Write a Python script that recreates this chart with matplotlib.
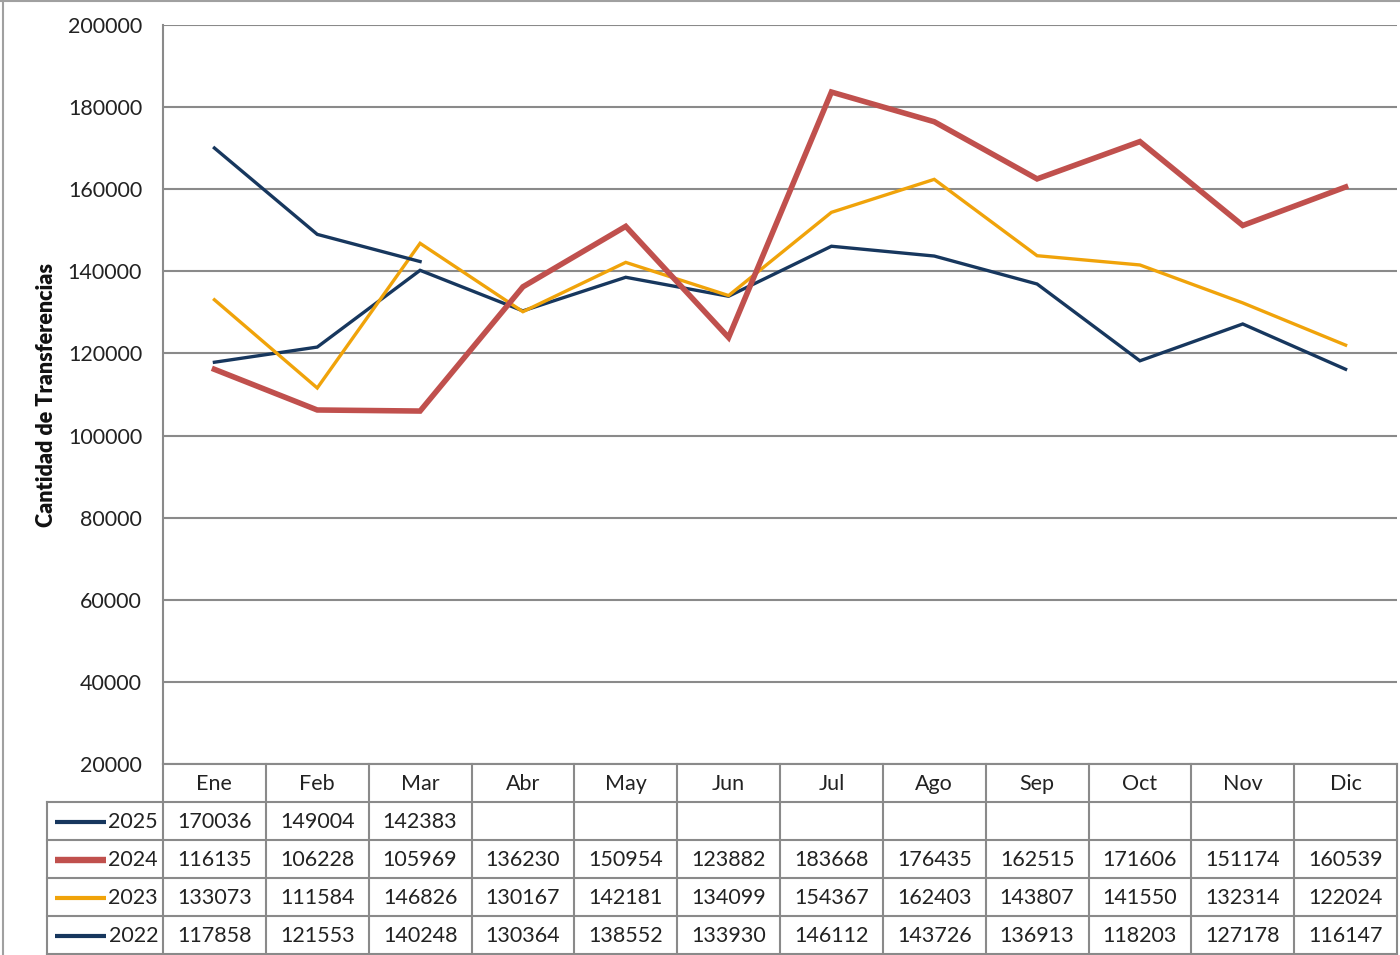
import numpy as np
import matplotlib.pyplot as plt

plt.rcParams['font.family'] = ['Lato', 'DejaVu Sans']

months = ['Ene', 'Feb', 'Mar', 'Abr', 'May', 'Jun', 'Jul', 'Ago', 'Sep', 'Oct', 'Nov', 'Dic']
v2025 = [170036, 149004, 142383]
v2024 = [116135, 106228, 105969, 136230, 150954, 123882, 183668, 176435, 162515, 171606, 151174, 160539]
v2023 = [133073, 111584, 146826, 130167, 142181, 134099, 154367, 162403, 143807, 141550, 132314, 122024]
v2022 = [117858, 121553, 140248, 130364, 138552, 133930, 146112, 143726, 136913, 118203, 127178, 116147]

years = ['2025', '2024', '2023', '2022']
series = [v2025, v2024, v2023, v2022]
colors = ['#17375E', '#C0504D', '#F0A30A', '#17375E']
widths = [2.4, 4.0, 2.4, 2.4]

W, H = 1400, 955
fig = plt.figure(figsize=(W / 100, H / 100), dpi=100)

# plot area in pixels
x0, x1 = 163, 1397
ytop, ybot = 25, 764
ax = fig.add_axes([x0 / W, 1 - ybot / H, (x1 - x0) / W, (ybot - ytop) / H])
grid_c = '#8A8A8A'

x = np.arange(len(months))
for i in [3, 2, 1, 0]:
    ax.plot(x[:len(series[i])], series[i], color=colors[i], lw=widths[i],
            solid_joinstyle='miter', zorder=3 + (i == 1))

ax.set_xlim(-0.5, 11.5)
ax.set_ylim(20000, 200000)
ax.set_yticks(np.arange(20000, 200001, 20000))
ax.set_xticks([])
ax.yaxis.grid(True, color=grid_c, lw=1.5)
ax.set_axisbelow(True)
for s in ['top', 'right', 'bottom']:
    ax.spines[s].set_visible(False)
ax.spines['left'].set_color(grid_c)
ax.spines['left'].set_linewidth(1.5)
ax.tick_params(axis='y', length=0, pad=15, labelsize=15.5, labelcolor='#222222')

# data table drawn in pixel coordinates
tb = fig.add_axes([0, 0, 1, 1])
tb.set_xlim(0, W)
tb.set_ylim(H, 0)
tb.axis('off')
tb.patch.set_alpha(0)

tb.text(47, 395, 'Cantidad de Transferencias', rotation=90, ha='center', va='center',
        fontsize=15.5, fontweight='heavy', color='#111111')

cw = (x1 - x0) / len(months)
rh = 38
xl = 47
col_edges = [x0 + k * cw for k in range(len(months) + 1)]
row_edges = [ybot + k * rh for k in range(len(years) + 2)]
row_edges[-1] = 954

# horizontal lines
tb.plot([x0, x1], [row_edges[0], row_edges[0]], color=grid_c, lw=1.5)
for yy in row_edges[1:]:
    tb.plot([xl, x1], [yy, yy], color=grid_c, lw=1.5)
# vertical lines
for xx in col_edges:
    tb.plot([xx, xx], [row_edges[0], row_edges[-1]], color=grid_c, lw=1.5)
tb.plot([xl, xl], [row_edges[1], row_edges[-1]], color=grid_c, lw=1.5)

# outer chart border
tb.plot([2.5, 2.5], [0, H], color='#A0A0A0', lw=1.5)
tb.plot([0, W], [1.5, 1.5], color='#A0A0A0', lw=1.5)

fs = 15.5
for j, m in enumerate(months):
    tb.text((col_edges[j] + col_edges[j + 1]) / 2, (row_edges[0] + row_edges[1]) / 2 + 1, m,
            ha='center', va='center', fontsize=fs, color='#222222')

for i, (yr, vals) in enumerate(zip(years, series)):
    yc = (row_edges[i + 1] + row_edges[i + 2]) / 2 + 1
    tb.plot([55, 106], [yc, yc], color=colors[i], lw=widths[i] + 0.6, solid_capstyle='butt')
    tb.text(158, yc, yr, ha='right', va='center', fontsize=fs, color='#222222')
    for j, v in enumerate(vals):
        tb.text((col_edges[j] + col_edges[j + 1]) / 2, yc, str(v),
                ha='center', va='center', fontsize=fs, color='#222222')

fig.savefig('out.png', dpi=100)
